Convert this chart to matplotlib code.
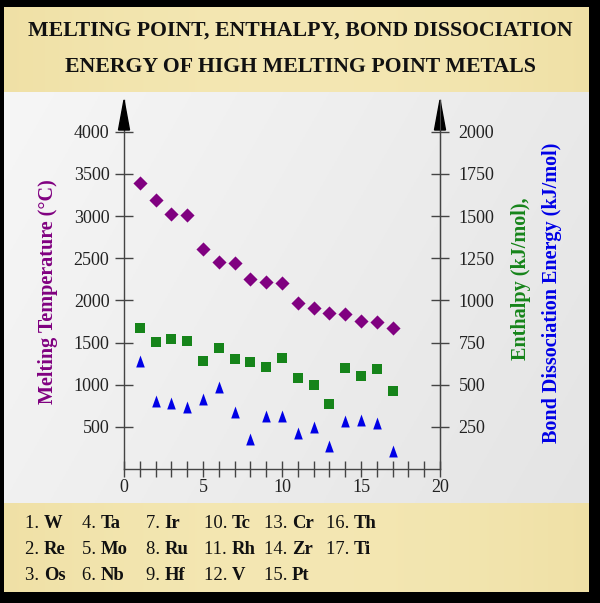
import numpy as np
import matplotlib
matplotlib.use('Agg')
import matplotlib.pyplot as plt
from matplotlib.patches import Polygon

# Data (x = metal index)
metals = ['W', 'Re', 'Os', 'Ta', 'Mo', 'Nb', 'Ir', 'Ru', 'Hf',
          'Tc', 'Rh', 'V', 'Cr', 'Zr', 'Pt', 'Th', 'Ti']
idx = np.arange(1, len(metals) + 1)
melting_c = [3390, 3190, 3025, 3017, 2613, 2459, 2440, 2250, 2222,
             2206, 1973, 1906, 1847, 1839, 1759, 1747, 1669]
enthalpy = [835, 755, 769, 761, 642, 716, 651, 636, 607,
            660, 538, 498, 384, 597, 552, 591, 463]
bond_energy = [642, 405, 390, 370, 413, 488, 340, 178, 314,
               317, 215, 247, 136, 285, 291, 275, 107]

left_ticks = [500, 1000, 1500, 2000, 2500, 3000, 3500, 4000]
right_ticks = [250, 500, 750, 1000, 1250, 1500, 1750, 2000]

W, H = 600, 603
SERIF = 'Liberation Serif'
PURPLE = '#800080'
GREEN = '#16841a'
BLUE = '#0000e6'

fig = plt.figure(figsize=(W / 100, H / 100), dpi=100, facecolor='black')

# background panels (pixel coords, y downwards)
bg = fig.add_axes([0, 0, 1, 1])
bg.set_xlim(0, W)
bg.set_ylim(H, 0)
bg.axis('off')

xs = np.linspace(0, 1, 200)
yellow_prof = 1 - 0.5 * (2 * xs - 1) ** 2
c_edge = np.array([0.925, 0.855, 0.600])
c_mid = np.array([0.955, 0.905, 0.700])
yellow = c_edge + (c_mid - c_edge) * yellow_prof[:, None]
bg.imshow(yellow[None, :, :], extent=(4, 589, 92, 7), aspect='auto', zorder=0)
bg.imshow(yellow[None, :, :], extent=(4, 589, 592, 503), aspect='auto', zorder=0)

gx, gy = np.meshgrid(np.linspace(0, 1, 200), np.linspace(0, 1, 100))
gval = 0.965 - 0.05 * gx - 0.02 * gy
gray = np.dstack([gval, gval, gval])
bg.imshow(gray, extent=(4, 589, 503, 92), aspect='auto', zorder=0)

# title
for yy, line in [(31, 'MELTING POINT, ENTHALPY, BOND DISSOCIATION'),
                 (67, 'ENERGY OF HIGH MELTING POINT METALS')]:
    bg.text(300, yy, line, ha='center', va='center', fontsize=15.7,
            fontweight='bold', family=SERIF, color='#111111')

# element key at the bottom
col_x = [25, 82, 146, 204, 264, 326]
row_y = [524, 550, 576]
for i, sym in enumerate(metals):
    c, r = divmod(i, 3)
    t = bg.text(col_x[c], row_y[r], f'{i + 1}. ', ha='left', va='center',
                fontsize=13.4, family=SERIF, color='#111111')
    bg.annotate(sym, xy=(1, 0), xycoords=t, va='bottom', ha='left',
                fontsize=13.4, family=SERIF, fontweight='bold', color='#111111')

# main axes: x 124..440 px, y 100..469 px
ax_l, ax_r, ax_t, ax_b = 124, 440, 100, 469
ax = fig.add_axes([ax_l / W, (H - ax_b) / H, (ax_r - ax_l) / W, (ax_b - ax_t) / H])
ax.patch.set_alpha(0)
ymax = (ax_b - ax_t) / ((ax_b - 131.7) / 4000)
ax.set_xlim(0, 20)
ax.set_ylim(0, ymax)

ax.scatter(idx, melting_c, marker='D', s=7.2 ** 2, color=PURPLE, zorder=3, linewidths=0)
ax.scatter(idx, np.array(enthalpy) * 2, marker='s', s=6.6 ** 2, color=GREEN, zorder=3, linewidths=0)
tri = [(0, 1), (-0.72, -1), (0.72, -1)]
ax.scatter(idx, np.array(bond_energy) * 2, marker=tri, s=8.6 ** 2, color=BLUE, zorder=3, linewidths=0)

ax.spines['top'].set_visible(False)
for side in ['left', 'right', 'bottom']:
    ax.spines[side].set_color('#444444')
    ax.spines[side].set_linewidth(1.0)

ax.set_xticks(range(0, 21))
ax.set_xticklabels([str(v) if v % 5 == 0 else '' for v in range(0, 21)],
                   family=SERIF, fontsize=13, color='#222222')
ax.tick_params(axis='x', direction='inout', length=11, width=1, color='#444444', pad=2)
ax.set_yticks(left_ticks)
ax.set_yticklabels([str(v) for v in left_ticks], family=SERIF, fontsize=13, color='#222222')
ax.tick_params(axis='y', direction='inout', length=13, width=1, color='#444444', pad=4)

ax2 = ax.twinx()
ax2.set_ylim(0, ymax / 2)
ax2.set_yticks(right_ticks)
ax2.set_yticklabels([str(v) for v in right_ticks], family=SERIF, fontsize=13, color='#222222')
ax2.tick_params(axis='y', direction='inout', length=13, width=1, color='#444444', pad=7)
for side in ['top', 'left', 'bottom']:
    ax2.spines[side].set_visible(False)
ax2.spines['right'].set_color('#444444')

# arrow heads on both y axes
hw = 5.5 / (ax_r - ax_l)
hh = 30 / (ax_b - ax_t)
for xa in (0, 1):
    ax.add_patch(Polygon([(xa, 1.0), (xa - hw, 1 - hh), (xa + hw, 1 - hh)],
                         closed=True, transform=ax.transAxes, clip_on=False,
                         color='black', zorder=5))

# axis labels
bg.text(48, 292, 'Melting Temperature (°C)', rotation=90, ha='center', va='center',
        fontsize=14.5, fontweight='bold', family=SERIF, color=PURPLE)
bg.text(521, 279, 'Enthalpy (kJ/mol),', rotation=90, ha='center', va='center',
        fontsize=14.5, fontweight='bold', family=SERIF, color=GREEN)
bg.text(552, 293, 'Bond Dissociation Energy (kJ/mol)', rotation=90, ha='center', va='center',
        fontsize=14.5, fontweight='bold', family=SERIF, color=BLUE)

fig.savefig('out.png', dpi=100, facecolor='black')
